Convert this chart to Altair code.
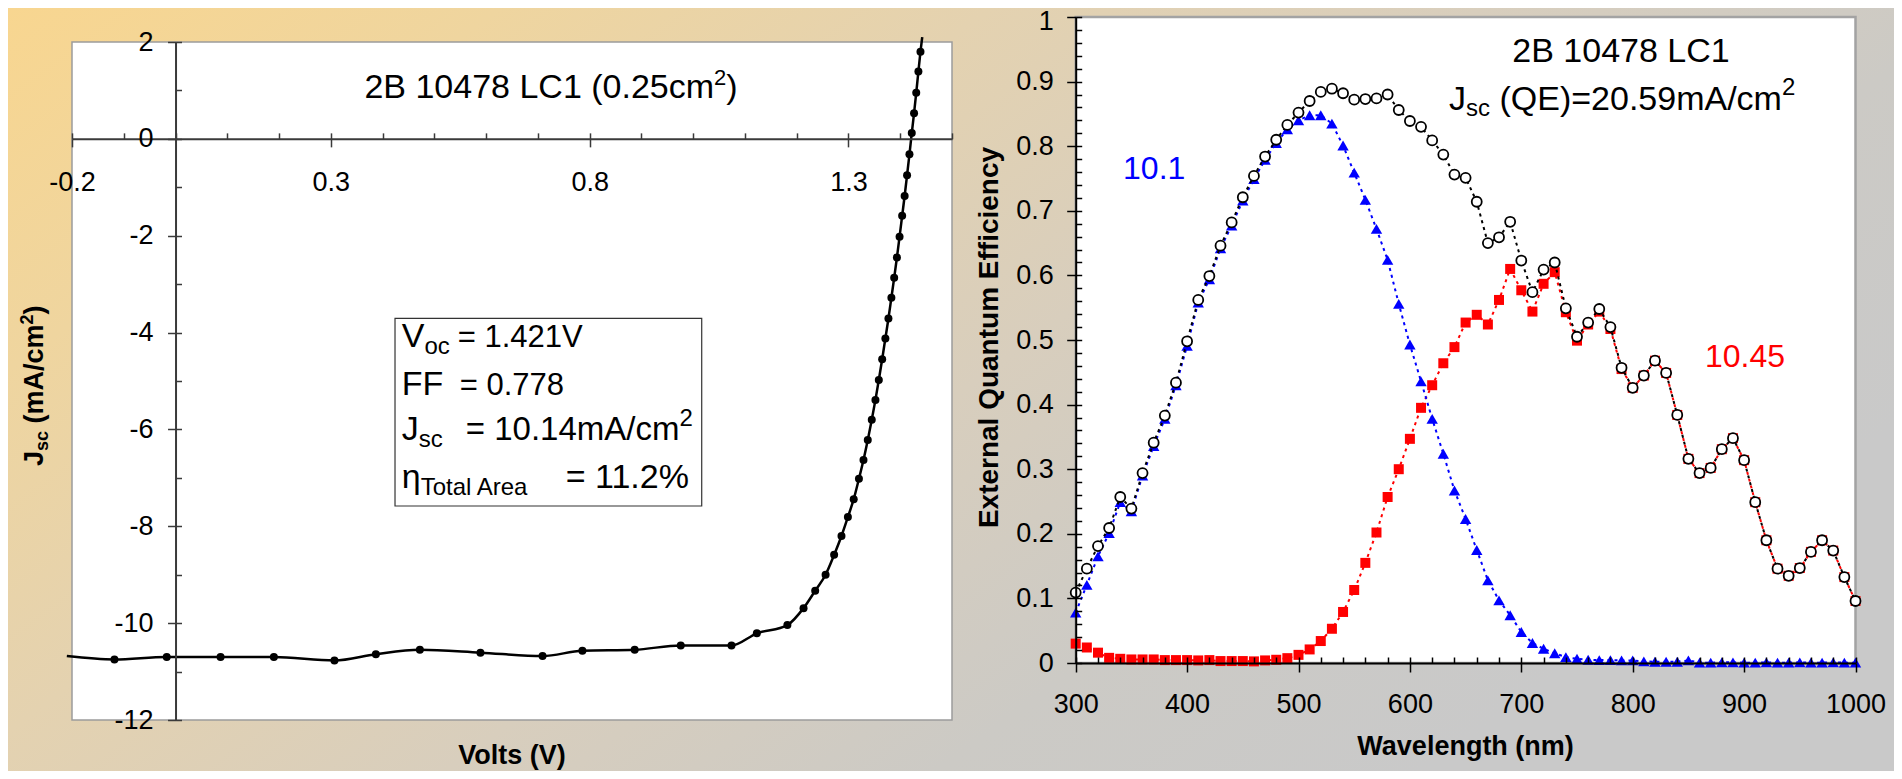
import altair as alt
import pandas as pd

W, H = 1886, 763
FONT = "Liberation Sans"

# ---------------- J-V curve (left panel) ----------------
jv_volts = [-0.118, -0.017, 0.087, 0.190, 0.307, 0.387, 0.472, 0.589, 0.709, 0.786,
            0.887, 0.976, 1.074, 1.123, 1.182, 1.2132, 1.2357, 1.2558, 1.2723, 1.2865,
            1.2989, 1.3101, 1.3202, 1.3290, 1.3373, 1.3450, 1.3521, 1.3586, 1.3651, 1.3713,
            1.3772, 1.3829, 1.3883, 1.3936, 1.3987, 1.4037, 1.4085, 1.4132, 1.4178, 1.4223,
            1.4267, 1.4309, 1.4351, 1.4391]
jv_current = [-10.75, -10.70, -10.70, -10.70, -10.77, -10.64, -10.55, -10.61, -10.68, -10.57,
              -10.55, -10.46, -10.46, -10.21, -10.04, -9.69, -9.33, -9.00, -8.59, -8.20,
              -7.81, -7.44, -7.02, -6.63, -6.22, -5.80, -5.39, -4.98, -4.55, -4.12,
              -3.71, -3.28, -2.87, -2.45, -2.02, -1.59, -1.18, -0.75, -0.32, 0.12,
              0.53, 0.95, 1.39, 1.80]
# the smoothed curve runs a little past the first and last markers
jv_curve_end_volts = [-0.21, 1.4425]
jv_curve_end_current = [-10.68, 2.10]

# ---------------- Quantum efficiency (right panel) ----------------
qe_wavelength = list(range(300, 1001, 10))
qe_total = [0.109, 0.146, 0.181, 0.209, 0.257, 0.239, 0.294, 0.341, 0.383, 0.434,
            0.498, 0.562, 0.599, 0.646, 0.682, 0.721, 0.754, 0.784, 0.810, 0.833,
            0.852, 0.870, 0.884, 0.889, 0.882, 0.872, 0.873, 0.874, 0.880, 0.856,
            0.839, 0.830, 0.809, 0.787, 0.756, 0.751, 0.714, 0.650, 0.659, 0.683,
            0.623, 0.574, 0.609, 0.620, 0.549, 0.505, 0.527, 0.548, 0.520, 0.457,
            0.426, 0.445, 0.468, 0.449, 0.384, 0.316, 0.294, 0.302, 0.331, 0.348,
            0.314, 0.249, 0.190, 0.146, 0.135, 0.147, 0.172, 0.190, 0.174, 0.133,
            0.096]
qe_top = [0.078, 0.121, 0.165, 0.201, 0.249, 0.235, 0.290, 0.336, 0.378, 0.430,
          0.491, 0.558, 0.594, 0.642, 0.677, 0.716, 0.749, 0.779, 0.805, 0.826,
          0.840, 0.848, 0.848, 0.835, 0.801, 0.759, 0.717, 0.672, 0.624, 0.556,
          0.493, 0.436, 0.378, 0.324, 0.267, 0.223, 0.175, 0.128, 0.097, 0.074,
          0.048, 0.031, 0.022, 0.015, 0.009, 0.0065, 0.005, 0.0045, 0.0045, 0.004,
          0.004, 0.0025, 0.002, 0.002, 0.002, 0.004, 0.0005, 0.0005, 0.001, 0.001,
          0.0005, 0.0005, 0.001, 0.0005, 0.0005, 0.001, 0.0005, 0.0005, 0.001, 0.0005,
          0.0005]
qe_bottom = [0.030, 0.024, 0.016, 0.008, 0.0065, 0.0055, 0.0055, 0.0055, 0.0045, 0.0045,
             0.0045, 0.004, 0.0045, 0.003, 0.003, 0.003, 0.0025, 0.004, 0.005, 0.0075,
             0.0126, 0.021, 0.034, 0.053, 0.079, 0.113, 0.155, 0.202, 0.257, 0.300,
             0.347, 0.395, 0.430, 0.464, 0.489, 0.527, 0.539, 0.524, 0.562, 0.610,
             0.577, 0.544, 0.587, 0.605, 0.543, 0.499, 0.524, 0.544, 0.517, 0.455,
             0.426, 0.445, 0.468, 0.449, 0.384, 0.316, 0.294, 0.302, 0.331, 0.348,
             0.314, 0.249, 0.190, 0.146, 0.135, 0.147, 0.172, 0.190, 0.174, 0.133,
             0.096]

# ---------------- axis ticks ----------------
jv_x_labels = [-0.2, 0.3, 0.8, 1.3]
jv_x_minor = [round(-0.2 + 0.1 * i, 1) for i in range(18)]
jv_y_labels = [2, 0, -2, -4, -6, -8, -10, -12]
jv_y_minor = list(range(-12, 3))
qe_x_labels = [300, 400, 500, 600, 700, 800, 900, 1000]
qe_x_minor = list(range(300, 1001, 20))
qe_y_labels = [round(0.1 * i, 1) for i in range(11)]
qe_y_minor = [round(0.02 * i, 2) for i in range(51)]

# ---------------- layout (pixels inside the chart) ----------------
JV_X_DOM, JV_X_RNG = [-0.2, 1.5], [64, 944]
JV_Y_DOM, JV_Y_RNG = [-12, 2], [712, 34]
QE_X_DOM, QE_X_RNG = [300, 1000], [1067.7, 1847.5]
QE_Y_DOM, QE_Y_RNG = [0, 1], [655, 9]


def px(dom, rng, v):
    return rng[0] + (v - dom[0]) / (dom[1] - dom[0]) * (rng[1] - rng[0])


JV_X0 = px(JV_X_DOM, JV_X_RNG, 0)
JV_Y0 = px(JV_Y_DOM, JV_Y_RNG, 0)
QE_X0 = px(QE_X_DOM, QE_X_RNG, 300)
QE_Y0 = px(QE_Y_DOM, QE_Y_RNG, 0)

jsx = alt.Scale(domain=JV_X_DOM, range=JV_X_RNG, nice=False, zero=False)
jsy = alt.Scale(domain=JV_Y_DOM, range=JV_Y_RNG, nice=False, zero=False)
qsx = alt.Scale(domain=QE_X_DOM, range=QE_X_RNG, nice=False, zero=False)
qsy = alt.Scale(domain=QE_Y_DOM, range=QE_Y_RNG, nice=False, zero=False)


def make_axis(orient, offset, values, size, color, labels=False, expr=None, pad=0, loff=None):
    props = dict(orient=orient, offset=offset, values=values, tickSize=size,
                 tickColor=color, tickWidth=1.5, domain=labels, domainColor=color,
                 domainWidth=2, grid=False, title=None, labels=labels, zindex=1)
    if labels:
        props.update(labelFont=FONT, labelFontSize=27, labelColor="black",
                     labelPadding=pad, labelExpr=expr, labelOverlap=False,
                     labelFlush=False, labelBound=False)
        if loff is not None:
            props["labelOffset"] = loff
    return alt.Axis(**props)


NEG = "datum.value < 0 ? '-' + format(-datum.value, '{f}') : format(datum.value, '{f}')"
JV_COL = "#3a3a3a"
ax_jv_bottom = make_axis("bottom", JV_Y0 - H, jv_x_labels, 8, JV_COL, True, NEG.format(f=".1f"), 23)
ax_jv_top = make_axis("top", -JV_Y0, jv_x_minor, 6, JV_COL)
ax_jv_left = make_axis("left", -JV_X0, jv_y_labels, 8, JV_COL, True, NEG.format(f="d"), 14.5)
ax_jv_right = make_axis("right", JV_X0 - W, jv_y_minor, 6, JV_COL)

ax_qe_bottom = make_axis("bottom", QE_Y0 - H, qe_x_labels, 9, "black", True, "format(datum.value, 'd')", 19.4)
ax_qe_top = make_axis("top", -QE_Y0, qe_x_minor, 6, "black")
ax_qe_left = make_axis("left", -QE_X0, qe_y_labels, 9, "black", True, "format(datum.value, '.1~f')", 13.4,
                       {"condition": {"test": "datum.value == 1", "value": 4}, "value": 0})
ax_qe_right = make_axis("right", QE_X0 - W, qe_y_minor, 6, "black")

# ---------------- text helpers ----------------
AR = {' ': 278, '(': 333, ')': 333, '.': 278, '/': 278, '=': 584, '%': 889,
      'A': 667, 'B': 667, 'C': 722, 'E': 667, 'F': 611, 'J': 500, 'L': 556, 'Q': 778,
      'T': 611, 'V': 667, 'a': 556, 'c': 500, 'e': 556, 'l': 222, 'm': 833, 'o': 556,
      'r': 333, 's': 500, 't': 278, 'η': 556}
ARB = {' ': 278, '(': 333, ')': 333, '/': 278, 'J': 556, 's': 556, 'c': 556,
       'm': 889, 'A': 722}


def tw(s, size, bold=False):
    table = ARB if bold else AR
    return sum(table.get(ch, 556) for ch in s) * size / 1000.0


ONE = alt.Data(values=[{"k": 0}])


def run(parts, enc, angle=0, bold=False, color="black"):
    """Text made of pieces (sub/superscripts) laid out one after another."""
    out, dx = [], 0.0
    for text, size, dy, at in parts:
        if at is not None:
            dx = at
        stripped = text.lstrip(" ")
        dx += tw(" " * (len(text) - len(stripped)), size, bold)
        out.append(alt.Chart(ONE).mark_text(
            text=stripped, font=FONT, fontSize=size, fontWeight="bold" if bold else "normal",
            color=color, align="left", baseline="alphabetic", angle=angle, dx=dx, dy=dy
        ).encode(**enc))
        dx += tw(stripped, size, bold)
    return out


def jpos(x, y):
    return dict(x=alt.XDatum(x, type="quantitative", scale=jsx, axis=None),
                y=alt.YDatum(y, type="quantitative", scale=jsy, axis=None))


def qpos(x, y):
    return dict(x=alt.XDatum(x, type="quantitative", scale=qsx, axis=None),
                y=alt.YDatum(y, type="quantitative", scale=qsy, axis=None))


def ppos(x, y):
    return dict(x=alt.value(x), y=alt.value(y))


# ---------------- background ----------------
bg = alt.Chart(ONE).mark_rect(
    fill=alt.LinearGradient(
        gradient="linear", x1=0, y1=0, x2=1, y2=0.55,
        stops=[alt.GradientStop(color="#F8D690", offset=0),
               alt.GradientStop(color="#EFD59F", offset=0.2),
               alt.GradientStop(color="#E4D2B0", offset=0.4),
               alt.GradientStop(color="#D8CEBD", offset=0.6),
               alt.GradientStop(color="#CCCAC5", offset=0.8),
               alt.GradientStop(color="#C9C9C9", offset=1)])
).encode(x=alt.value(0), x2=alt.value(W), y=alt.value(0), y2=alt.value(H))

# ---------------- left panel ----------------
jv_df = pd.DataFrame({"V": jv_volts, "J": jv_current})
curve_df = pd.concat([jv_df, pd.DataFrame({"V": jv_curve_end_volts, "J": jv_curve_end_current})]
                     ).sort_values("V")

jv_box = alt.Chart(ONE).mark_rect(fill="white", stroke="#9c9c9c", strokeWidth=1.5).encode(
    x=alt.XDatum(JV_X_DOM[0], type="quantitative", scale=jsx, axis=None),
    x2=alt.X2Datum(JV_X_DOM[1]),
    y=alt.YDatum(JV_Y_DOM[0], type="quantitative", scale=jsy, axis=None),
    y2=alt.Y2Datum(JV_Y_DOM[1]))

info_box = alt.Chart(ONE).mark_rect(fill="white", stroke="#333333", strokeWidth=1.2).encode(
    x=alt.XDatum(0.424, type="quantitative", scale=jsx, axis=None),
    x2=alt.X2Datum(1.0165),
    y=alt.YDatum(-7.581, type="quantitative", scale=jsy, axis=None),
    y2=alt.Y2Datum(-3.705))

jv_line = alt.Chart(curve_df).mark_line(color="black", strokeWidth=2.5, interpolate="monotone").encode(
    x=alt.X("V:Q", scale=jsx, axis=ax_jv_bottom),
    y=alt.Y("J:Q", scale=jsy, axis=ax_jv_left))

jv_pts = alt.Chart(jv_df).mark_point(shape="circle", filled=True, color="black", size=64, opacity=1).encode(
    x=alt.X("V:Q", scale=jsx, axis=ax_jv_top),
    y=alt.Y("J:Q", scale=jsy, axis=ax_jv_right))

jv_texts = []
jv_texts += run([("2B 10478 LC1 (0.25cm", 34, 0, 0), ("2", 22, -13, None), (")", 34, 0, None)],
                jpos(0.3649, 0.8375))
jv_texts += run([("V", 34, 0, 0), ("oc", 24, 7, None), ("= 1.421V", 31, 0, 56)], jpos(0.437, -4.291))
jv_texts += run([("FF", 34, 0, 0), ("= 0.778", 31, 0, 58)], jpos(0.437, -5.289))
jv_texts += run([("J", 34, 0, 0), ("sc", 24, 7, None), ("= 10.14mA/cm", 33, 0, 64), ("2", 24, -14, None)],
                jpos(0.437, -6.218))
jv_texts += run([("η", 34, 0, 0), ("Total Area", 24, 7, None), ("= 11.2%", 34, 0, 164)],
                jpos(0.437, -7.209))

jv = alt.layer(jv_box, info_box, jv_line, jv_pts, *jv_texts).resolve_axis(x="independent", y="independent")

# ---------------- right panel ----------------
qe_df = pd.DataFrame({"wl": qe_wavelength, "total": qe_total, "top": qe_top, "bottom": qe_bottom})

qe_box = alt.Chart(ONE).mark_rect(fill="white", stroke="#a3a3a3", strokeWidth=2.5).encode(
    x=alt.XDatum(QE_X_DOM[0], type="quantitative", scale=qsx, axis=None),
    x2=alt.X2Datum(QE_X_DOM[1]),
    y=alt.YDatum(QE_Y_DOM[0], type="quantitative", scale=qsy, axis=None),
    y2=alt.Y2Datum(QE_Y_DOM[1]))


def qe_line(field, color, ax_x=None, ax_y=None):
    return alt.Chart(qe_df).mark_line(color=color, strokeWidth=2, strokeDash=[3, 4]).encode(
        x=alt.X("wl:Q", scale=qsx, axis=ax_x), y=alt.Y(field + ":Q", scale=qsy, axis=ax_y))


def qe_pts(field, ax_x=None, ax_y=None, **mk):
    return alt.Chart(qe_df).mark_point(opacity=1, **mk).encode(
        x=alt.X("wl:Q", scale=qsx, axis=ax_x), y=alt.Y(field + ":Q", scale=qsy, axis=ax_y))


red_line = qe_line("bottom", "#FF0000", ax_qe_bottom, ax_qe_left)
red_pts = qe_pts("bottom", ax_qe_top, ax_qe_right, shape="square", filled=True, color="#FF0000", size=100)
blue_line = qe_line("top", "#0000FF")
blue_pts = qe_pts("top", shape="triangle-up", filled=True, color="#0000FF", size=130)
black_line = qe_line("total", "black")
black_pts = qe_pts("total", shape="circle", filled=True, fill="white", stroke="black",
                   strokeWidth=1.8, size=100)

qe_texts = [alt.Chart(ONE).mark_text(text="2B 10478 LC1", font=FONT, fontSize=34, align="center",
                                     baseline="alphabetic", color="black").encode(**qpos(789.5, 0.9308))]
qe_texts += run([("J", 34, 0, 0), ("sc", 24, 6, None), (" (QE)=20.59mA/cm", 34, 0, None), ("2", 24, -15, None)],
                qpos(635.1, 0.856))
qe_texts += run([("10.1", 32, 0, 0)], qpos(342.5, 0.749), color="#0000FF")
qe_texts += run([("10.45", 32, 0, 0)], qpos(864.9, 0.4587), color="#FF0000")

qe = alt.layer(qe_box, red_line, red_pts, blue_line, blue_pts, black_line, black_pts, *qe_texts
               ).resolve_axis(x="independent", y="independent")

# ---------------- axis titles ----------------
titles = []
titles += run([("J", 27, 0, 0), ("sc", 18, 5, None), (" (mA/cm", 27, 0, None), ("2", 18, -10, None),
               (")", 27, 0, None)], ppos(35, 458), angle=270, bold=True)
titles.append(alt.Chart(ONE).mark_text(text="Volts (V)", font=FONT, fontSize=27, fontWeight="bold",
                                       align="center", baseline="alphabetic").encode(**ppos(504, 756)))
titles.append(alt.Chart(ONE).mark_text(text="Wavelength (nm)", font=FONT, fontSize=27, fontWeight="bold",
                                       align="center", baseline="alphabetic").encode(**ppos(1457.6, 747)))
titles.append(alt.Chart(ONE).mark_text(text="External Quantum Efficiency", font=FONT, fontSize=28,
                                       fontWeight="bold", align="center", baseline="alphabetic",
                                       angle=270).encode(**ppos(990, 329.5)))

chart = alt.layer(bg, jv, qe, *titles).resolve_scale(x="independent", y="independent").properties(
    width=W, height=H, padding=0, background="#d3ccc0",
    autosize=alt.AutoSizeParams(type="none")
).configure_view(stroke=None)

chart.save("out.html", embed_options={"renderer": "svg", "actions": False})
